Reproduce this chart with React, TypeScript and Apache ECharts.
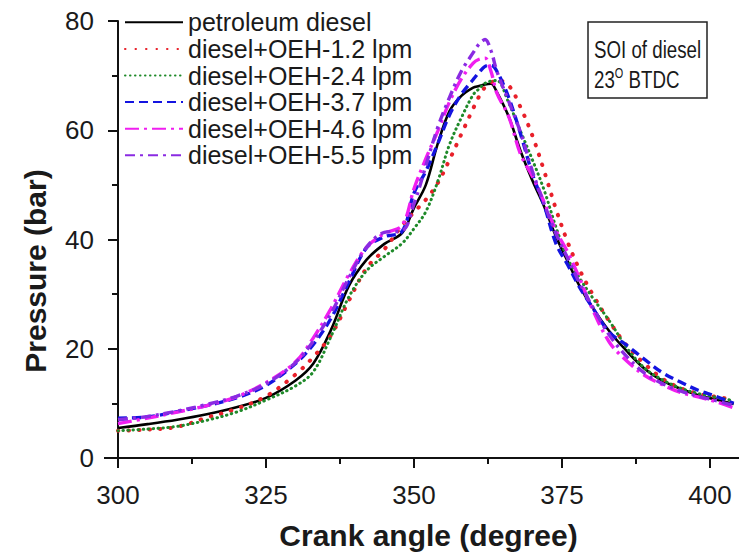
import React, { useEffect, useRef } from "react";
import * as echarts from "echarts";

const crankAngles = [300, 305, 310, 315, 320, 325, 330, 333, 336, 339, 342, 345, 348, 350, 352, 354, 356, 358, 360, 361, 362, 363, 364, 366, 368, 370, 372, 374, 376, 378, 380, 383, 386, 389, 392, 395, 398, 401, 404];

const petroleumDiesel = [5.5, 6.2, 7.0, 8.0, 9.3, 11.0, 14.2, 17.3, 23.5, 31.5, 36.3, 39.2, 41.2, 45.8, 50.0, 57.5, 63.5, 66.3, 67.8, 68.1, 68.4, 68.5, 67.0, 62.5, 56.2, 50.8, 46.0, 40.5, 35.9, 31.4, 27.8, 23.2, 19.5, 16.3, 14.1, 12.7, 11.5, 10.7, 9.9];
const oeh12 = [5.0, 5.2, 5.7, 7.4, 9.0, 11.3, 15.3, 18.5, 22.5, 28.8, 34.8, 38.2, 42.6, 45.0, 47.3, 50.3, 54.6, 59.3, 64.0, 66.2, 67.9, 68.7, 69.2, 68.2, 64.2, 59.0, 52.5, 45.5, 39.4, 34.4, 30.3, 25.0, 20.5, 17.2, 14.5, 12.8, 11.8, 11.2, 10.7];
const oeh24 = [5.0, 5.3, 5.8, 6.9, 8.4, 10.6, 13.2, 15.8, 22.3, 29.5, 34.3, 36.9, 39.3, 42.0, 45.1, 50.6, 57.4, 62.3, 66.5, 67.6, 68.6, 69.0, 69.1, 65.0, 59.8, 54.6, 49.0, 42.2, 36.4, 32.9, 29.6, 25.1, 20.1, 16.4, 14.3, 12.8, 11.8, 11.1, 10.5];
const oeh37 = [7.3, 7.5, 8.5, 9.6, 11.0, 13.3, 17.3, 20.8, 25.6, 32.2, 38.5, 40.5, 41.5, 48.5, 52.5, 57.5, 62.8, 66.6, 69.3, 70.6, 71.7, 71.9, 70.8, 66.0, 59.3, 52.0, 46.2, 39.2, 35.3, 31.2, 27.8, 23.0, 20.6, 18.0, 15.6, 13.9, 12.4, 11.3, 10.0];
const oeh46 = [6.3, 7.3, 8.4, 9.6, 11.2, 13.8, 17.6, 22.0, 27.4, 33.6, 38.6, 41.1, 42.6, 49.3, 54.8, 59.8, 65.2, 69.4, 72.3, 73.0, 73.2, 70.8, 66.8, 62.5, 55.6, 51.6, 46.8, 41.6, 37.6, 32.8, 27.6, 21.2, 17.7, 15.1, 13.4, 12.0, 11.2, 10.3, 9.2];
const oeh55 = [7.0, 7.6, 8.6, 9.8, 11.3, 13.6, 17.5, 21.4, 26.5, 33.0, 38.6, 41.3, 41.6, 46.5, 53.5, 60.5, 66.0, 70.8, 74.2, 75.8, 76.6, 74.6, 70.8, 65.3, 59.6, 52.5, 46.5, 41.0, 36.5, 32.0, 28.0, 22.5, 18.5, 15.5, 13.6, 12.3, 11.3, 10.5, 9.6];

const seriesNames = [
  "petroleum diesel",
  "diesel+OEH-1.2 lpm",
  "diesel+OEH-2.4 lpm",
  "diesel+OEH-3.7 lpm",
  "diesel+OEH-4.6 lpm",
  "diesel+OEH-5.5 lpm",
];
const seriesValues = [petroleumDiesel, oeh12, oeh24, oeh37, oeh46, oeh55];

const xMin = 300;
const xTickMax = 400;
const xAxisEnd = 404.9;
const xTickStep = 25;
const yMin = 0;
const yMax = 80;
const yTickStep = 20;

const SANS = "'Liberation Sans', Arial, sans-serif";

const lineStyles = [
  { color: "#000000", width: 2.6, type: "solid" },
  { color: "#e8202a", width: 4, type: [0.5, 10], cap: "round" },
  { color: "#1f8a2a", width: 3, type: [0.5, 4.5], cap: "round" },
  { color: "#1414e0", width: 3.4, type: [9, 5] },
  { color: "#f01ef0", width: 3.4, type: [14, 5, 3, 5] },
  { color: "#8a2be2", width: 3.4, type: [10, 5, 3, 5] },
];

export default function App() {
  const ref = useRef<HTMLDivElement>(null);
  useEffect(() => {
    if (!ref.current) return;
    const chart = echarts.init(ref.current, null, { renderer: "svg" });
    const axisColor = "#111";
    const gridTop = 21;
    const gridBottom = 99;
    const option: any = {
      animation: false,
      backgroundColor: "#ffffff",
      grid: [
        { left: 118, right: 0, top: gridTop, bottom: gridBottom, containLabel: false },
        { left: 118, right: 29, top: gridTop, bottom: gridBottom, containLabel: false },
      ],
      legend: {
        orient: "vertical",
        left: 124,
        top: 9,
        padding: 0,
        itemWidth: 58,
        itemHeight: 12,
        itemGap: 0,
        itemStyle: { opacity: 0 },
        textStyle: { fontFamily: SANS, fontSize: 25, color: "#1a1a1a", lineHeight: 26.6 },
        data: seriesNames,
      },
      xAxis: [
        {
          gridIndex: 0,
          type: "value",
          min: xMin,
          max: xAxisEnd,
          splitLine: { show: false },
          axisLine: { onZero: false, lineStyle: { color: axisColor, width: 2 } },
          axisTick: { show: false },
          axisLabel: { show: false },
          name: "Crank angle (degree)",
          nameLocation: "middle",
          nameGap: 62,
          nameTextStyle: { fontFamily: SANS, fontSize: 30, fontWeight: "bold", color: "#1a1a1a" },
        },
        {
          gridIndex: 1,
          type: "value",
          min: xMin,
          max: xTickMax,
          interval: xTickStep,
          splitLine: { show: false },
          axisLine: { show: false, onZero: false },
          axisTick: { show: true, length: 10, lineStyle: { color: axisColor, width: 2 } },
          minorTick: { show: true, splitNumber: 2, length: 6, lineStyle: { color: axisColor, width: 2 } },
          axisLabel: { fontFamily: SANS, fontSize: 26, color: "#1a1a1a", margin: 24 },
        },
      ],
      yAxis: [
        {
          gridIndex: 0,
          type: "value",
          min: yMin,
          max: yMax,
          interval: yTickStep,
          splitLine: { show: false },
          axisLine: { show: true, onZero: false, lineStyle: { color: axisColor, width: 2 } },
          axisTick: { show: true, length: 10, lineStyle: { color: axisColor, width: 2 } },
          minorTick: { show: true, splitNumber: 2, length: 6, lineStyle: { color: axisColor, width: 2 } },
          axisLabel: { fontFamily: SANS, fontSize: 26, color: "#1a1a1a", margin: 24 },
        },
        {
          gridIndex: 1,
          type: "value",
          min: yMin,
          max: yMax,
          show: false,
        },
      ],
      series: seriesNames.map((name, i) => ({
        name,
        type: "line",
        xAxisIndex: 0,
        yAxisIndex: 0,
        data: crankAngles.map((a, j) => [a, seriesValues[i][j]]),
        smooth: 0.35,
        symbol: "none",
        lineStyle: lineStyles[i],
        itemStyle: { color: lineStyles[i].color },
        z: 2 + i,
      })),
      graphic: [
        { type: "line", shape: { x1: 104, y1: 458, x2: 118, y2: 458 }, style: { stroke: axisColor, lineWidth: 2 } },
        { type: "line", shape: { x1: 118, y1: 458, x2: 118, y2: 467 }, style: { stroke: axisColor, lineWidth: 2 } },
        {
          type: "text",
          x: 35,
          y: 271,
          rotation: Math.PI / 2,
          style: {
            text: "Pressure (bar)",
            fontFamily: SANS,
            fontSize: 30,
            fontWeight: "bold",
            fill: "#1a1a1a",
            align: "center",
            verticalAlign: "middle",
          },
        },
        {
          type: "rect",
          shape: { x: 588, y: 22, width: 119, height: 76 },
          style: { fill: "#ffffff", stroke: "#222", lineWidth: 1.5 },
          z: 100,
        },
        {
          type: "text",
          x: 594,
          y: 50,
          z: 101,
          scaleX: 0.78,
          style: { text: "SOI of diesel", fontFamily: SANS, fontSize: 24, fill: "#1a1a1a", verticalAlign: "middle" },
        },
        {
          type: "text",
          x: 594,
          y: 80,
          z: 101,
          scaleX: 0.78,
          style: {
            text: "{a|23}{s|O}{a| BTDC}",
            verticalAlign: "middle",
            rich: {
              a: { fontFamily: SANS, fontSize: 24, fill: "#1a1a1a", lineHeight: 26 },
              s: { fontFamily: SANS, fontSize: 14, fill: "#1a1a1a", lineHeight: 14, verticalAlign: "top" },
            },
          },
        },
      ],
    };
    chart.setOption(option);
    return () => chart.dispose();
  }, []);
  return (
    <div
      ref={ref}
      style={{ position: "absolute", left: 0, top: 0, width: 739, height: 557, background: "#fff" }}
    />
  );
}
